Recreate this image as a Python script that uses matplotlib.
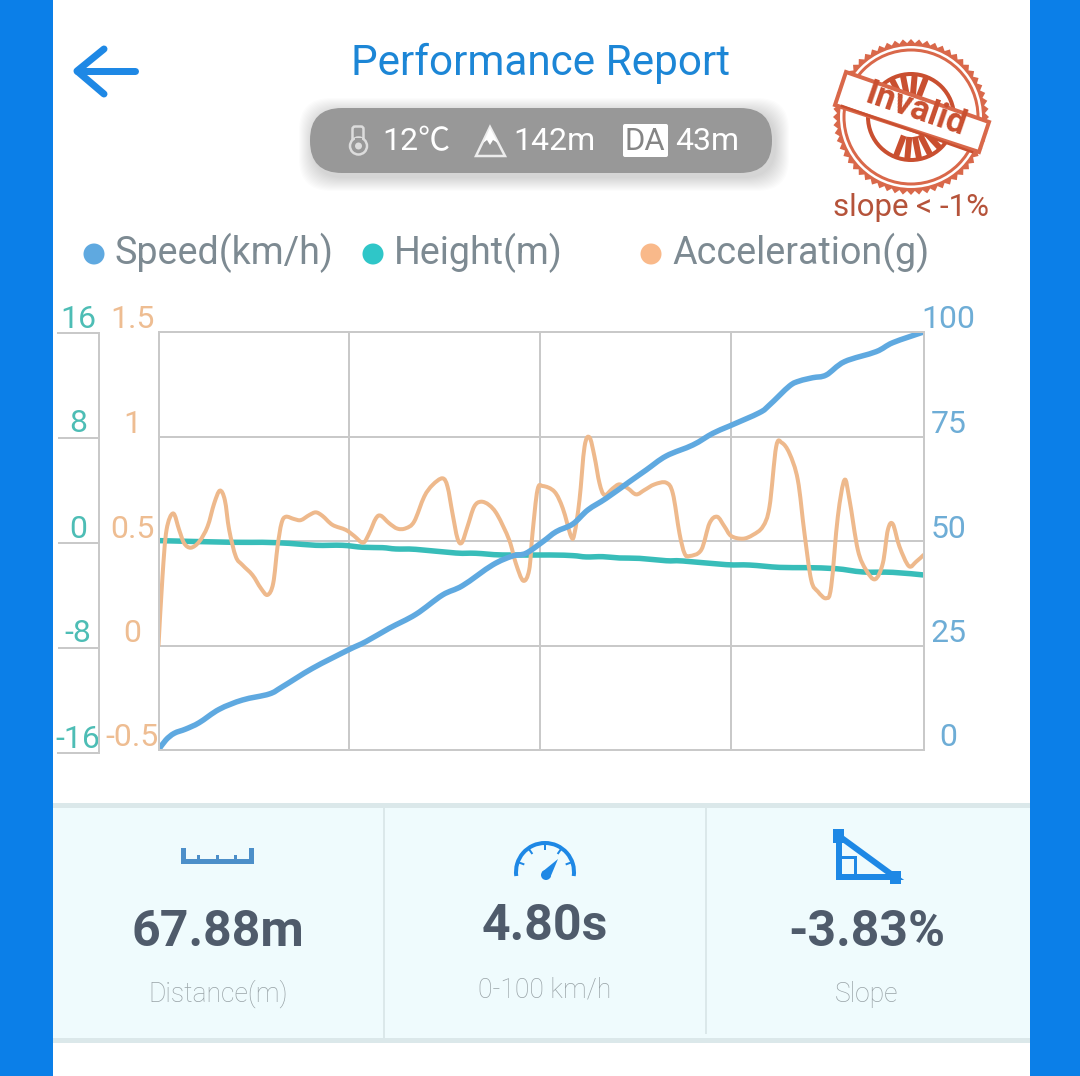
import matplotlib
matplotlib.use("Agg")
import matplotlib.pyplot as plt
from matplotlib.patches import Rectangle, FancyBboxPatch, Circle, Polygon, Arc, PathPatch
from matplotlib.path import Path
from matplotlib.transforms import ScaledTranslation
import numpy as np

plt.rcParams['font.family'] = ['Roboto', 'Noto Sans CJK SC', 'DejaVu Sans']
plt.rcParams['axes.unicode_minus'] = False

# values, x is % of the run
accel_x = [0, 0.52, 1.05, 1.92, 2.70, 3.36, 4.23, 5.32, 6.41, 7.28, 8.02, 8.67, 9.24, 10.11, 10.98, 12.29,
           13.38, 14.25, 14.99, 15.56, 16.08, 16.64, 17.73, 18.61, 19.70, 20.57, 21.44, 22.75, 24.49, 25.58,
           26.75, 27.54, 28.41, 29.06, 30.15, 31.24, 32.33, 33.42, 34.73, 35.82, 37.12, 37.78, 38.43, 39.08,
           39.65, 40.39, 41.26, 42.14, 43.22, 44.31, 45.84, 46.71, 47.67, 48.45, 48.89, 49.54, 50.24, 51.76,
           52.85, 53.94, 54.38, 55.03, 55.69, 56.34, 56.99, 57.65, 58.30, 59.39, 60.26, 61.35, 62.44, 63.53,
           64.84, 66.36, 67.23, 68.10, 68.76, 69.41, 70.94, 72.03, 73.03, 73.99, 74.86, 76.38, 77.69, 79.00,
           79.87, 80.74, 81.48, 82.48, 83.57, 84.44, 85.32, 86.19, 87.28, 87.93, 88.80, 89.67, 90.33, 91.42,
           92.50, 93.68, 94.68, 95.34, 95.99, 96.86, 98.08, 99.04, 100]
accel_g = [0.00, 0.329, 0.553, 0.632, 0.553, 0.489, 0.468, 0.497, 0.569, 0.680, 0.741, 0.696, 0.553, 0.425, 0.385, 0.337,
           0.274, 0.242, 0.297, 0.473, 0.585, 0.616, 0.605, 0.600, 0.624, 0.637, 0.620, 0.577, 0.553, 0.524,
           0.492, 0.537, 0.608, 0.621, 0.585, 0.559, 0.561, 0.593, 0.712, 0.768, 0.800, 0.760, 0.632, 0.513,
           0.492, 0.569, 0.664, 0.688, 0.672, 0.624, 0.505, 0.393, 0.310, 0.361, 0.537, 0.744, 0.763, 0.736,
           0.656, 0.521, 0.537, 0.696, 0.951, 0.996, 0.904, 0.776, 0.720, 0.752, 0.771, 0.752, 0.723, 0.744,
           0.771, 0.779, 0.728, 0.537, 0.441, 0.428, 0.457, 0.585, 0.616, 0.569, 0.524, 0.511, 0.529, 0.569,
           0.664, 0.951, 0.970, 0.919, 0.792, 0.537, 0.313, 0.258, 0.226, 0.281, 0.616, 0.792, 0.696, 0.457,
           0.361, 0.317, 0.393, 0.553, 0.581, 0.473, 0.380, 0.401, 0.433]

speed_x = [0, 0.96, 2.05, 3.57, 5.32, 7.93, 10.98, 14.47, 16.21, 20.13, 24.79, 27.10, 30.15, 33.64, 37.12, 39.74,
           43.66, 46.27, 48.02, 50.24, 51.98, 54.16, 56.12, 58.52, 61.57, 63.75, 66.36, 69.85, 72.46, 74.64,
           78.56, 79.87, 82.48, 83.79, 85.53, 87.28, 89.67, 93.81, 95.99, 100]
speed_kmh = [0, 2.39, 3.99, 5.02, 6.54, 9.73, 11.96, 13.40, 15.15, 19.54, 23.92, 25.92, 29.11, 32.46, 37.08, 39.31,
             44.26, 46.41, 47.05, 49.84, 52.23, 54.07, 57.42, 60.21, 64.19, 66.99, 70.33, 72.97, 75.76, 77.51,
             80.70, 82.54, 87.08, 88.28, 89.07, 89.71, 92.90, 95.30, 97.45, 100]

height_x = [0, 9.67, 13.59, 17.08, 20.57, 24.05, 26.67, 29.28, 31.02, 33.64, 38.87, 41.48, 44.97, 51.11, 54.16,
            55.90, 58.08, 60.26, 62.88, 66.36, 68.54, 74.20, 77.25, 81.18, 84.66, 88.58, 92.07, 95.99, 100]
height_m = [0.03, -0.10, -0.10, -0.18, -0.33, -0.33, -0.48, -0.51, -0.61, -0.64, -0.92, -0.94, -1.07, -1.07, -1.12,
            -1.22, -1.20, -1.30, -1.33, -1.51, -1.53, -1.81, -1.84, -2.02, -2.04, -2.12, -2.37, -2.40, -2.60]

speed_ticks = [0, 25, 50, 75, 100]
accel_ticks = [-0.5, 0, 0.5, 1, 1.5]
accel_labels = ['-0.5', '0', '0.5', '1', '1.5']
height_ticks = [-16, -8, 0, 8, 16]

W, H = 1080, 1076
BLUE = '#1e88e5'
SPEED = '#5fa9e0'
TEAL = '#38bdb9'
ORANGE = '#eeb98c'
GRID = '#c9c9c9'
STAMP = '#c94f30'


def px(n):
    # font size / line width from screen pixels
    return n * 0.72


def axes_box(left, top, right, bottom):
    return [left / W, 1 - bottom / H, (right - left) / W, (bottom - top) / H]


def smooth_line(ax, xs, ys, color, width):
    # the app draws smoothed lines, so join the read values with bezier segments
    pts = np.column_stack([xs, ys])
    verts = [pts[0]]
    codes = [Path.MOVETO]
    for i in range(len(pts) - 1):
        before = pts[max(i - 1, 0)]
        after = pts[min(i + 2, len(pts) - 1)]
        verts += [pts[i] + (pts[i + 1] - before) / 6, pts[i + 1] - (after - pts[i]) / 6, pts[i + 1]]
        codes += [Path.CURVE4] * 3
    ax.add_patch(PathPatch(Path(verts, codes), fill=False, ec=color, lw=px(width),
                           capstyle='round', joinstyle='round'))


fig = plt.figure(figsize=(W / 100, H / 100), dpi=100, facecolor='white')

# screen furniture is drawn in pixel coordinates
ui = fig.add_axes([0, 0, 1, 1])
ui.set_xlim(0, W)
ui.set_ylim(H, 0)
ui.axis('off')

ui.add_patch(Rectangle((0, 0), 53, H, color='#0b7fe8', lw=0))
ui.add_patch(Rectangle((1030, 0), 50, H, color='#0b7fe8', lw=0))

# header
ui.plot([77, 135], [71, 71], color=BLUE, lw=px(7), solid_capstyle='round')
ui.plot([104, 77, 104], [49, 71, 94], color=BLUE, lw=px(7), solid_capstyle='round', solid_joinstyle='round')
ui.text(541, 63, 'Performance Report', color='#1c86d6', fontsize=px(42.2), ha='center', va='center')

# pill with soft shadow
for grow in range(14, 0, -1):
    ui.add_patch(FancyBboxPatch((313 - grow, 112 - grow), 462 + 2 * grow, 65 + 2 * grow,
                                boxstyle='round,pad=0,rounding_size=32', fc='black', ec='none', alpha=0.012))
ui.add_patch(FancyBboxPatch((310, 108), 462, 65, boxstyle='round,pad=0,rounding_size=32', fc='#989898', ec='none'))
pill_text = dict(color='white', fontsize=px(32), va='center', ha='left')
ui.text(382, 142, '12℃', **pill_text)
ui.text(513, 142, '142m', **pill_text)
ui.text(675, 142, '43m', **pill_text)

# thermometer
ui.add_patch(FancyBboxPatch((355, 129), 6, 16, boxstyle='round,pad=2.5', fc='none', ec='#dcdcdc', lw=px(2.5)))
ui.add_patch(Circle((358.5, 146), 8.5, fc='#989898', ec='#dcdcdc', lw=px(2.5)))
ui.add_patch(Rectangle((355, 138), 7, 9, fc='#989898', ec='none'))
ui.add_patch(Circle((358.5, 146), 3.5, fc='#dcdcdc', ec='none'))
# mountain
ui.add_patch(Polygon([[476, 156], [490, 127], [505, 156]], fc='#989898', ec='#ececec', lw=px(2.5)))
ui.add_patch(Polygon([[483, 143], [490, 128], [498, 143], [493, 140], [490, 145], [487, 140]], fc='white', ec='none'))
# density altitude box
ui.add_patch(FancyBboxPatch((625, 126), 41, 29, boxstyle='round,pad=2', fc='white', ec='none'))
ui.text(645, 142, 'DA', color='#858585', fontsize=px(31), ha='center', va='center')

# invalid stamp
cx, cy = 911, 117
ang = np.linspace(0, 2 * np.pi, 121)
rad = np.where(np.arange(121) % 2 == 0, 78, 74)
ui.add_patch(Polygon(np.c_[cx + rad * np.cos(ang), cy + rad * np.sin(ang)], fc='#d9684a', ec='none'))
ui.add_patch(Circle((cx, cy), 71, fc='white', ec='none'))
ui.add_patch(Circle((cx, cy), 67, fc='white', ec='#d9684a', lw=px(3)))
ui.add_patch(Circle((cx, cy), 43, fc='white', ec=STAMP, lw=px(4)))
for a in list(np.arange(-130, -45, 16)) + list(np.arange(50, 135, 16)):
    t = np.radians(a - 19)
    ui.plot([cx + 23 * np.cos(t), cx + 41 * np.cos(t)], [cy + 23 * np.sin(t), cy + 41 * np.sin(t)],
            color=STAMP, lw=px(6), zorder=2)
# banner goes over the spokes
ui.add_patch(Polygon([[846, 72], [989, 122], [979, 152], [835, 105]], fc='white', ec='#d9684a', lw=px(4), zorder=4))
ui.plot([842, 972], [106, 152], color=STAMP, lw=px(2.5), zorder=5)
ui.text(916, 110, 'Invalid', color=STAMP, fontsize=px(35), fontweight='bold', ha='center', va='center',
        rotation=-19, zorder=6)
ui.text(911, 207, 'slope < -1%', color='#b5533a', fontsize=px(31.3), ha='center', va='center')

# legend row
legend_dots = [(94, SPEED), (373, '#2fc6c8'), (651, '#f9b98a')]
for x, c in legend_dots:
    ui.add_patch(Circle((x, 254), 10.5, fc=c, ec='none'))
legend_text = dict(color='#7d8a92', fontsize=px(37.6), ha='left', va='center')
ui.text(115, 253, 'Speed(km/h)', **legend_text)
ui.text(394, 253, 'Height(m)', **legend_text)
ui.text(672, 253, 'Acceleration(g)', **legend_text)

# stats panel
ui.add_patch(Rectangle((53, 803), 977, 240, fc='#effbfd', ec='none'))
ui.add_patch(Rectangle((53, 803), 977, 5, fc='#dbe8ea', ec='none'))
ui.add_patch(Rectangle((53, 1038), 977, 5, fc='#dbe8ea', ec='none'))
ui.plot([384, 384], [808, 1038], color='#dbe8ea', lw=px(2))
ui.plot([706, 706], [808, 1033], color='#dbe8ea', lw=px(2))

# ruler
ui.add_patch(Rectangle((181, 859), 73, 5, fc='#4c8fc9', ec='none'))
for x, top, wide in [(183.5, 848, 5), (198, 855, 3), (217, 855, 3), (235, 855, 3), (251.5, 848, 5)]:
    ui.add_patch(Rectangle((x - wide / 2, top), wide, 864 - top, fc='#4c8fc9', ec='none'))
# gauge
ui.add_patch(Arc((545, 872), 58, 58, theta1=172, theta2=368, color=BLUE, lw=px(4)))
for a in [200, 235, 270, 305, 340]:
    t = np.radians(a)
    ui.plot([545 + 23 * np.cos(t), 545 + 28 * np.cos(t)], [872 + 23 * np.sin(t), 872 + 28 * np.sin(t)],
            color=BLUE, lw=px(2))
ui.add_patch(Polygon([[542, 872], [558, 859], [550, 878]], fc=BLUE, ec='none'))
ui.add_patch(Circle((546, 875), 5, fc=BLUE, ec='none'))
# slope triangle
ui.add_patch(Polygon([[839, 836], [895, 877], [839, 877]], fc='none', ec=BLUE, lw=px(6)))
ui.add_patch(Rectangle((833, 829), 11, 14, fc=BLUE, ec='none'))
ui.add_patch(Rectangle((890, 871), 11, 13, fc=BLUE, ec='none'))
ui.add_patch(Rectangle((839, 857), 16, 20, fc='none', ec=BLUE, lw=px(3)))

stat_style = dict(color='#4f5b6b', fontsize=px(50), fontweight='bold', ha='center', va='center')
ui.text(218, 932, '67.88m', **stat_style)
ui.text(545, 926, '4.80s', **stat_style)
ui.text(867, 932, '-3.83%', **stat_style)
name_style = dict(color='#98a2a6', fontsize=px(26.5), ha='center', va='center', fontweight='light')
ui.text(218, 994, 'Distance(m)', **name_style)
ui.text(545, 990, '0-100 km/h', **name_style)
ui.text(867, 994, 'Slope', **name_style)

# chart
ax_height = fig.add_axes(axes_box(158.5, 332, 923.5, 750))
ax_accel = ax_height.twinx()
ax_speed = ax_height.twinx()

smooth_line(ax_height, height_x, height_m, TEAL, 5.5)
smooth_line(ax_accel, accel_x, accel_g, ORANGE, 4)
smooth_line(ax_speed, speed_x, speed_kmh, SPEED, 5.5)

ax_height.set_ylim(-16, 16)
ax_accel.set_ylim(-0.5, 1.5)
ax_speed.set_ylim(0, 100)
for ax in (ax_height, ax_accel, ax_speed):
    ax.set_xlim(0, 100)
    for s in ax.spines.values():
        s.set_color(GRID)
        s.set_linewidth(px(2))

ax_height.set_xticks([24.9, 49.85, 74.8])
ax_height.set_yticks(height_ticks)
ax_height.grid(True, color=GRID, lw=px(2))
ax_height.set_axisbelow(True)
ax_height.tick_params(length=0, labelleft=False, labelbottom=False)

ax_accel.yaxis.tick_left()
ax_accel.set_yticks(accel_ticks)
ax_accel.set_yticklabels(accel_labels)
ax_accel.tick_params(length=0, pad=px(26), labelcolor='#eebd92', labelsize=px(32))

ax_speed.set_yticks(speed_ticks)
ax_speed.tick_params(length=0, pad=px(25), labelcolor='#6eadd6', labelsize=px(32))

# separate little box on the left carries the height scale
ax_scale = fig.add_axes(axes_box(58, 333, 99, 753))
ax_scale.set_xlim(0, 1)
ax_scale.set_ylim(-16, 16)
ax_scale.set_xticks([])
ax_scale.set_yticks(height_ticks)
ax_scale.grid(True, axis='y', color=GRID, lw=px(2))
ax_scale.tick_params(length=0, pad=px(-20), labelcolor='#4dbdb5', labelsize=px(32))
ax_scale.spines['left'].set_visible(False)
for side in ['top', 'right', 'bottom']:
    ax_scale.spines[side].set_color(GRID)
    ax_scale.spines[side].set_linewidth(px(2))
ax_scale.patch.set_alpha(0)

# tick labels sit above their grid lines
fig.canvas.draw()
for ax, up in [(ax_accel, 15), (ax_speed, 15), (ax_scale, 17)]:
    lift = ScaledTranslation(0, up / 100, fig.dpi_scale_trans)
    for lab in ax.get_yticklabels():
        lab.set_ha('center')
        lab.set_transform(lab.get_transform() + lift)

fig.savefig('out.png', dpi=100)
